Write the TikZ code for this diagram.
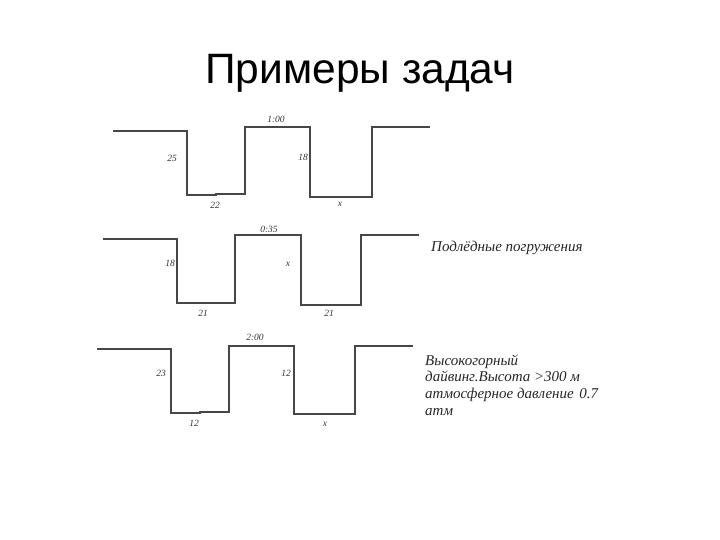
\documentclass[tikz,border=0pt]{standalone}
\usepackage{fontspec}
\setmainfont{Liberation Serif}
\newfontfamily\titlefont{Liberation Sans}
\begin{document}
\begin{tikzpicture}[x=1pt,y=-1pt,
  wave/.style={draw=black!72,line width=1.1pt,line join=miter},
  lbl/.style={font=\fontsize{9.5}{10}\selectfont\itshape,inner sep=0pt,text=black!80},
  note/.style={font=\fontsize{15}{17}\selectfont\itshape,inner sep=0pt,anchor=base west,text=black!85}]
\useasboundingbox (0,0) rectangle (720,540);
\node[font=\titlefont\fontsize{42.5}{44}\selectfont,anchor=base,inner sep=0pt] (title) at (360,84) {Примеры задач};

% diagram 1
\draw[wave] (113,131) -- (187,131) -- (187,195) -- (216,195) -- (216,194) -- (245,194) -- (245,127) -- (310,127) -- (310,197) -- (372,197) -- (372,127) -- (430,127);
\node[lbl] (a1) at (276,119) {1:00};
\node[lbl] (a2) at (172,158) {25};
\node[lbl] (a3) at (303,157) {18};
\node[lbl] (a4) at (215,205) {22};
\node[lbl] (a5) at (340,204) {x};

% diagram 2
\draw[wave] (103,239) -- (177,239) -- (177,303) -- (235,303) -- (235,235) -- (301,235) -- (301,305) -- (361,305) -- (361,235) -- (419,235);
\node[lbl] (b1) at (269,229) {0:35};
\node[lbl] (b2) at (170,263) {18};
\node[lbl] (b3) at (288,264) {x};
\node[lbl] (b4) at (203,313) {21};
\node[lbl] (b5) at (329,313) {21};
\node[note] (bt) at (431,251.5) {Подлёдные погружения};

% diagram 3
\draw[wave] (97,349) -- (171,349) -- (171,413) -- (200,413) -- (200,412) -- (229,412) -- (229,346) -- (294,346) -- (294,414) -- (355,414) -- (355,346) -- (413,346);
\node[lbl] (c1) at (255,337) {2:00};
\node[lbl] (c2) at (161,373) {23};
\node[lbl] (c3) at (286,373) {12};
\node[lbl] (c4) at (194,423) {12};
\node[lbl] (c5) at (325,424) {x};
\node[note] (ct1) at (425,365) {Высокогорный};
\node[note] (ct2) at (425,381.7) {дайвинг.Высота >300 м};
\node[note] (ct3) at (425,398.3) {\makebox[173pt][l]{атмосферное давление\hfill 0.7}};
\node[note] (ct4) at (425,415) {атм};
\end{tikzpicture}
\end{document}
